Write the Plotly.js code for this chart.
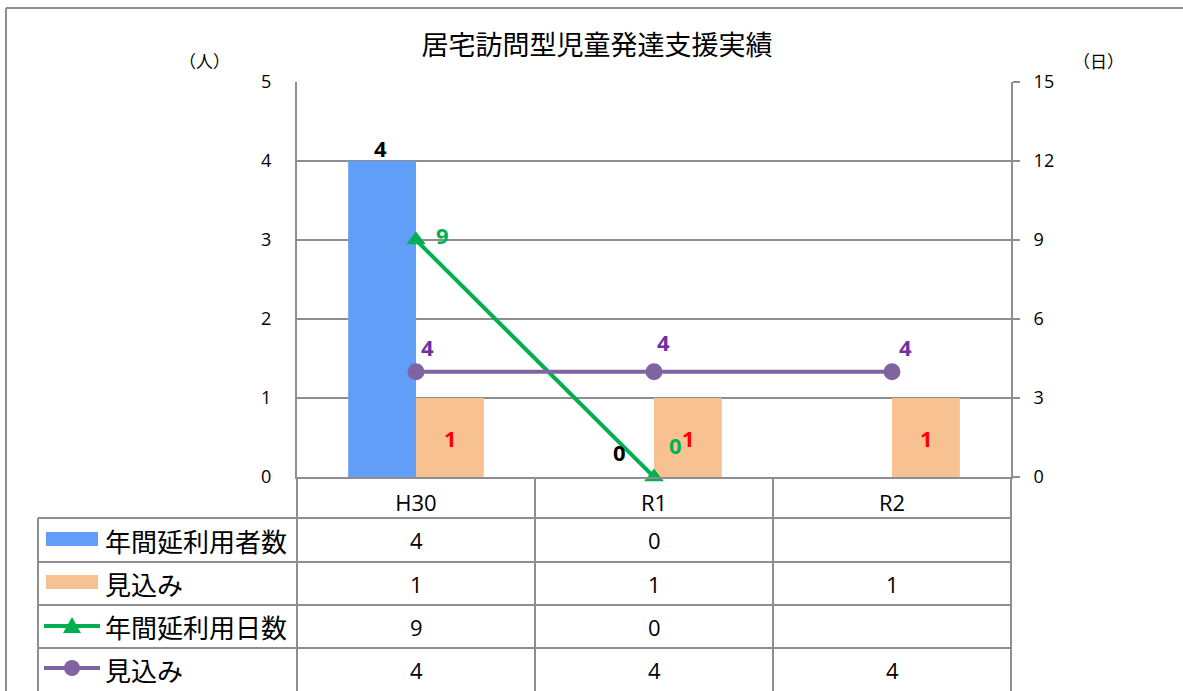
<!DOCTYPE html>
<html>
<head>
<meta charset="utf-8">
<script src="https://cdn.plot.ly/plotly-3.0.1.min.js"></script>
<style>html,body{margin:0;padding:0;background:#fff;}#chart{width:1183px;height:691px;}</style>
</head>
<body>
<div id="chart"></div>
<script>
// ---- data ----
const chartTitle = '居宅訪問型児童発達支援実績';
const categories = ['H30', 'R1', 'R2'];
const usersActual = [4, 0, null];     // 年間延利用者数 (人)
const usersForecast = [1, 1, 1];      // 見込み (人)
const daysActual = [9, 0, null];      // 年間延利用日数 (日)
const daysForecast = [4, 4, 4];       // 見込み (日)
const seriesNames = ['年間延利用者数', '見込み', '年間延利用日数', '見込み'];
const leftUnit = '（人）';
const rightUnit = '（日）';
const leftTicks = [0, 1, 2, 3, 4, 5];
const rightTicks = [0, 3, 6, 9, 12, 15];

// ---- styles ----
const W = 1183, H = 691;
const px = x => x / W;
const py = y => 1 - y / H;
const C_BLUE = '#619EF8', C_ORANGE = '#F8C191', C_GREEN = '#00B050', C_PURPLE = '#8064A2';
const C_GRID = '#8E8E8E';
const LATIN = 'Open Sans, Noto Sans CJK JP, sans-serif';
const CJK = 'Noto Sans CJK JP, sans-serif';
const BAR_OFF = 34;
// label nudges (pixels) per point
const nudgeUsers = [[-2, 13], [-1, 25], [0, 0]];
const nudgeForecastBar = [[0, 0], [0, 0], [0, 0]];
const nudgeDays = [[26, 5], [21, 32], [0, 0]];
const nudgeDaysForecast = [[11, 25], [9, 30], [13, 25]];

const traces = [
  { type: 'bar', name: seriesNames[0], x: categories, y: usersActual, marker: { color: C_BLUE }, yaxis: 'y', hoverinfo: 'skip' },
  { type: 'bar', name: seriesNames[1], x: categories, y: usersForecast, marker: { color: C_ORANGE }, yaxis: 'y', hoverinfo: 'skip' },
  { type: 'scatter', mode: 'lines+markers', name: seriesNames[2], x: categories, y: daysActual, yaxis: 'y2',
    line: { color: C_GREEN, width: 4 }, marker: { symbol: 'triangle-up', size: 17, color: C_GREEN }, cliponaxis: false, connectgaps: false },
  { type: 'scatter', mode: 'lines+markers', name: seriesNames[3], x: categories, y: daysForecast, yaxis: 'y2',
    line: { color: C_PURPLE, width: 4 }, marker: { symbol: 'circle', size: 17, color: C_PURPLE }, cliponaxis: false }
];

const annotations = [];
function lab(text, x, y, yref, xshift, yshift, color) {
  annotations.push({ text: text, x: x, y: y, xref: 'x', yref: yref, xshift: xshift, yshift: yshift,
    showarrow: false, xanchor: 'center', yanchor: 'middle',
    font: { family: LATIN, size: 22, color: color, weight: 'bold' } });
}
categories.forEach((c, i) => {
  if (usersActual[i] !== null) lab('<b>' + usersActual[i] + '</b>', c, usersActual[i], 'y', -BAR_OFF + nudgeUsers[i][0], nudgeUsers[i][1], '#000');
  if (usersForecast[i] !== null) lab('<b>' + usersForecast[i] + '</b>', c, usersForecast[i] / 2, 'y', BAR_OFF + nudgeForecastBar[i][0], nudgeForecastBar[i][1], '#FF0000');
  if (daysActual[i] !== null) lab('<b>' + daysActual[i] + '</b>', c, daysActual[i], 'y2', nudgeDays[i][0], nudgeDays[i][1], C_GREEN);
  if (daysForecast[i] !== null) lab('<b>' + daysForecast[i] + '</b>', c, daysForecast[i], 'y2', nudgeDaysForecast[i][0], nudgeDaysForecast[i][1], '#7030A0');
});

// data table values
const rowCenters = [540, 583.5, 626.5, 669.5];
const tableSeries = [usersActual, usersForecast, daysActual, daysForecast];
tableSeries.forEach((s, r) => {
  categories.forEach((c, i) => {
    if (s[i] === null) return;
    annotations.push({ text: String(s[i]), x: c, xref: 'x', y: py(rowCenters[r]), yref: 'paper',
      showarrow: false, xanchor: 'center', yanchor: 'middle', font: { family: LATIN, size: 22, color: '#000' } });
  });
  annotations.push({ text: seriesNames[r], x: px(103), xref: 'paper', y: py(rowCenters[r]), yref: 'paper',
    showarrow: false, xanchor: 'left', yanchor: 'middle', font: { family: CJK, size: 26, color: '#000' } });
});
// unit labels
annotations.push({ text: leftUnit, x: px(204), y: py(60), xref: 'paper', yref: 'paper', showarrow: false,
  xanchor: 'center', yanchor: 'middle', font: { family: CJK, size: 17, color: '#000' } });
annotations.push({ text: rightUnit, x: px(1098), y: py(60), xref: 'paper', yref: 'paper', showarrow: false,
  xanchor: 'center', yanchor: 'middle', font: { family: CJK, size: 17, color: '#000' } });

// shapes: outer frame, table grid, legend keys
const L = { color: C_GRID, width: 2 };
const shapes = [];
function hline(x0, x1, y) { shapes.push({ type: 'line', xref: 'paper', yref: 'paper', x0: px(x0), x1: px(x1), y0: py(y), y1: py(y), line: L }); }
function vline(x, y0, y1) { shapes.push({ type: 'line', xref: 'paper', yref: 'paper', x0: px(x), x1: px(x), y0: py(y0), y1: py(y1), line: L }); }
hline(6, 1183, 8);
vline(6, 8, 691);
[518, 562, 605, 648].forEach(y => hline(38, 1011, y));
[297, 535, 773, 1011].forEach(x => vline(x, 477, 691));
vline(38, 518, 691);
// legend keys
shapes.push({ type: 'rect', xref: 'paper', yref: 'paper', x0: px(46), x1: px(98), y0: py(532), y1: py(546), line: { width: 0 }, fillcolor: C_BLUE });
shapes.push({ type: 'rect', xref: 'paper', yref: 'paper', x0: px(46), x1: px(98), y0: py(575), y1: py(589), line: { width: 0 }, fillcolor: C_ORANGE });
shapes.push({ type: 'line', xref: 'paper', yref: 'paper', x0: px(44), x1: px(100), y0: py(626), y1: py(626), line: { color: C_GREEN, width: 4 } });
shapes.push({ type: 'path', xref: 'paper', yref: 'paper',
  path: 'M' + px(72) + ',' + py(617) + ' L' + px(63) + ',' + py(633) + ' L' + px(81) + ',' + py(633) + ' Z',
  line: { width: 0 }, fillcolor: C_GREEN });
shapes.push({ type: 'line', xref: 'paper', yref: 'paper', x0: px(44), x1: px(100), y0: py(668), y1: py(668), line: { color: C_PURPLE, width: 4 } });
shapes.push({ type: 'circle', xref: 'paper', yref: 'paper', x0: px(64), x1: px(80), y0: py(660), y1: py(676), line: { width: 0 }, fillcolor: C_PURPLE });

const layout = {
  width: W, height: H, autosize: false,
  margin: { l: 0, r: 0, t: 0, b: 0 },
  paper_bgcolor: '#fff', plot_bgcolor: '#fff',
  showlegend: false,
  barmode: 'group', bargap: 0.43, bargroupgap: 0,
  title: { text: chartTitle, x: px(597), y: py(46), xref: 'paper', yref: 'paper', xanchor: 'center', yanchor: 'middle',
    font: { family: CJK, size: 27, color: '#000' } },
  xaxis: { domain: [px(297), px(1011)], type: 'category', range: [-0.5, 2.5], showgrid: false, zeroline: false,
    showline: true, linecolor: C_GRID, linewidth: 2, ticks: '', ticklabelstandoff: 6,
    tickfont: { family: LATIN, size: 22, color: '#000' }, fixedrange: true },
  yaxis: { domain: [py(477), py(82)], range: [0, 5], tickvals: leftTicks, ticktext: leftTicks.map(String),
    showgrid: true, gridcolor: C_GRID, gridwidth: 2, zeroline: false, showline: true, linecolor: C_GRID, linewidth: 2,
    ticks: '', ticklabelstandoff: 20, tickfont: { family: LATIN, size: 18, color: '#000' }, fixedrange: true },
  yaxis2: { overlaying: 'y', side: 'right', anchor: 'x', range: [0, 15], tickvals: rightTicks, ticktext: rightTicks.map(String),
    showgrid: false, zeroline: false, showline: true, linecolor: C_GRID, linewidth: 2,
    ticks: 'outside', ticklen: 7, tickwidth: 2, tickcolor: C_GRID, ticklabelstandoff: 10,
    tickfont: { family: LATIN, size: 18, color: '#000' }, fixedrange: true },
  annotations: annotations,
  shapes: shapes
};

Plotly.newPlot('chart', traces, layout, { staticPlot: true, displayModeBar: false });
</script>
</body>
</html>
